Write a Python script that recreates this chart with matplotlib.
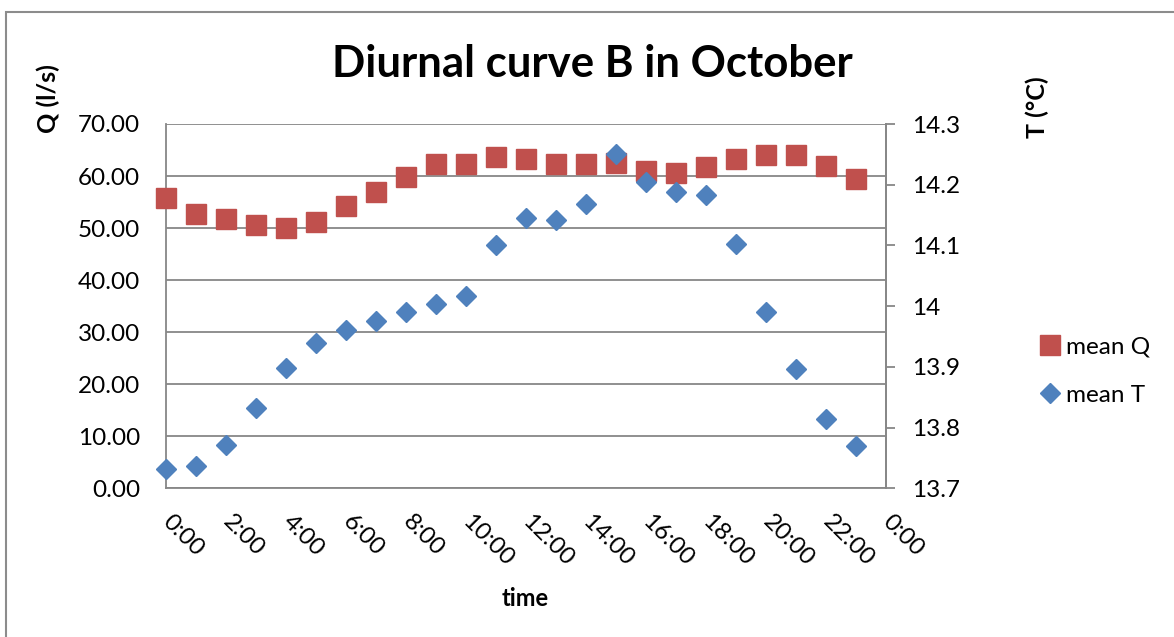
import matplotlib
matplotlib.use("Agg")
import matplotlib.pyplot as plt
from matplotlib.lines import Line2D
from matplotlib.patches import Rectangle

plt.rcParams['font.family'] = ['Lato', 'DejaVu Sans']

# Hourly means
hours = list(range(24))
mean_q = [55.7, 52.8, 51.7, 50.5, 50.1, 51.1, 54.3, 56.9, 59.8, 62.3, 62.4, 63.6,
          63.3, 62.4, 62.3, 62.6, 61.0, 60.5, 61.7, 63.3, 64.0, 64.0, 62.0, 59.4]
mean_t = [13.732, 13.737, 13.771, 13.832, 13.898, 13.940, 13.960, 13.976, 13.991,
          14.004, 14.017, 14.101, 14.145, 14.142, 14.168, 14.251, 14.204, 14.188,
          14.183, 14.103, 13.990, 13.896, 13.814, 13.769]

x_ticks = list(range(0, 25, 2))
x_labels = ["0:00", "2:00", "4:00", "6:00", "8:00", "10:00", "12:00", "14:00",
            "16:00", "18:00", "20:00", "22:00", "0:00"]
q_ticks = [0, 10, 20, 30, 40, 50, 60, 70]
q_labels = ["0.00", "10.00", "20.00", "30.00", "40.00", "50.00", "60.00", "70.00"]
t_ticks = [13.7, 13.8, 13.9, 14.0, 14.1, 14.2, 14.3]
t_labels = ["13.7", "13.8", "13.9", "14", "14.1", "14.2", "14.3"]

RED = "#C0504D"
BLUE = "#4F81BD"
GRID = "#878787"
FS = 17.5

W, H = 1174, 637
fig = plt.figure(figsize=(W / 100, H / 100), dpi=100)

# chart frame
fig.add_artist(Rectangle((6 / W, -0.1), 1.2, 1 - 12 / H + 0.1, transform=fig.transFigure,
                         fill=False, edgecolor="#8C8C8C", linewidth=1.5))

left, right, top, bottom = 166 / W, 886 / W, 1 - 124 / H, 1 - 488.3 / H
ax = fig.add_axes([left, bottom, right - left, top - bottom])
ax2 = ax.twinx()

ax.set_xlim(0, 24)
ax.set_ylim(0, 70)
ax2.set_ylim(13.7, 14.3)

ax.set_yticks(q_ticks)
ax.set_yticklabels(q_labels)
ax2.set_yticks(t_ticks)
ax2.set_yticklabels(t_labels)
ax.set_xticks(x_ticks)
ax.set_xticklabels(x_labels, rotation=-45, ha="left", va="center",
                   rotation_mode="anchor")

ax.grid(axis="y", color=GRID, linewidth=1.3)
ax.set_axisbelow(True)

for a in (ax, ax2):
    for s in a.spines.values():
        s.set_color(GRID)
        s.set_linewidth(1.3)
ax.spines["top"].set_visible(False)
ax2.spines["top"].set_visible(False)
ax2.spines["left"].set_visible(False)
ax2.spines["bottom"].set_visible(False)

ax.tick_params(axis="y", length=0, pad=18.5, labelsize=FS)
ax.tick_params(axis="x", length=0, pad=22, labelsize=FS)
ax2.tick_params(axis="y", length=6.5, width=1.3, color=GRID, pad=12, labelsize=FS)

ax.plot(hours, mean_q, linestyle="none", marker="s", markersize=14.2,
        color=RED, markeredgecolor=RED, zorder=3, clip_on=False)
ax2.plot(hours, mean_t, linestyle="none", marker="D", markersize=10,
         color=BLUE, markeredgecolor=BLUE, zorder=3, clip_on=False)

fig.text(592 / W, 1 - 64 / H, "Diurnal curve B in October", ha="center", va="center",
         fontsize=31.5, fontweight="bold")
fig.text(48 / W, 1 - 99 / H, "Q (l/s)", ha="center", va="center", rotation=90,
         fontsize=18, fontweight="bold")
fig.text(1037 / W, 1 - 107 / H, "T (°C)", ha="center", va="center", rotation=90,
         fontsize=18, fontweight="bold")
fig.text(525 / W, 1 - 598 / H, "time", ha="center", va="center",
         fontsize=17, fontweight="bold")

handles = [Line2D([], [], linestyle="none", marker="s", markersize=14, color=RED),
           Line2D([], [], linestyle="none", marker="D", markersize=10, color=BLUE)]
fig.legend(handles, ["mean Q", "mean T"], loc="center left",
           bbox_to_anchor=(1020 / W, 1 - 371 / H), frameon=False, fontsize=FS,
           handlelength=0.7, handletextpad=0.3, labelspacing=1.15)

fig.savefig("out.png", dpi=100)
